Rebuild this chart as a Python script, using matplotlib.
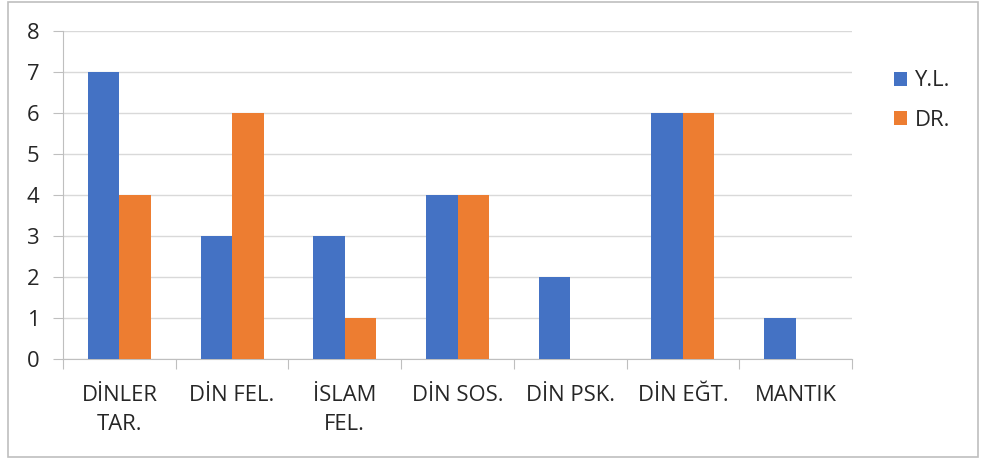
import numpy as np
import matplotlib.pyplot as plt
from matplotlib.patches import Rectangle

categories = ["DİNLER\nTAR.", "DİN FEL.", "İSLAM\nFEL.", "DİN SOS.", "DİN PSK.", "DİN EĞT.", "MANTIK"]
yl = [7, 3, 3, 4, 2, 6, 1]
dr = [4, 6, 1, 4, 0, 6, 0]

plt.rcParams['font.family'] = ['Open Sans', 'DejaVu Sans']

fig = plt.figure(figsize=(9.82, 4.59), dpi=100)
ax = fig.add_axes([0.0642, 0.2179, 0.8034, 0.7146])

x = np.arange(len(categories))
w = 0.28
ax.bar(x - w / 2, yl, w, color='#4472C4', label='Y.L.', zorder=3)
ax.bar(x + w / 2, dr, w, color='#ED7D31', label='DR.', zorder=3)

ax.set_xlim(-0.5, len(categories) - 0.5)
ax.set_ylim(0, 8)
ax.set_yticks(range(0, 9))
ax.yaxis.grid(True, color='#d9d9d9', linewidth=1, zorder=0)

# category labels between boundary ticks
ax.set_xticks(np.arange(-0.5, len(categories)), minor=False)
ax.set_xticklabels([])
ax.set_xticks(x, minor=True)
ax.set_xticklabels(categories, minor=True, fontsize=15.8, color='#262626', linespacing=1.5)
ax.tick_params(axis='x', which='minor', length=0, pad=19)
ax.tick_params(axis='x', which='major', length=7, color='#bfbfbf')
ax.tick_params(axis='y', length=7, color='#bfbfbf', labelsize=15.8, labelcolor='#262626', pad=10)

for s in ['top', 'right']:
    ax.spines[s].set_visible(False)
for s in ['left', 'bottom']:
    ax.spines[s].set_color('#bfbfbf')

ax.legend(loc='upper left', bbox_to_anchor=(1.028, 0.94), frameon=False, fontsize=15.8,
          handlelength=0.6, handleheight=0.6, handletextpad=0.35, labelspacing=0.85,
          labelcolor='#262626')

fig.patches.append(Rectangle((0.008, 0.005), 0.988, 0.99, transform=fig.transFigure,
                             fill=False, edgecolor='#bfbfbf', linewidth=1.2))

fig.savefig('out.png', dpi=100)
